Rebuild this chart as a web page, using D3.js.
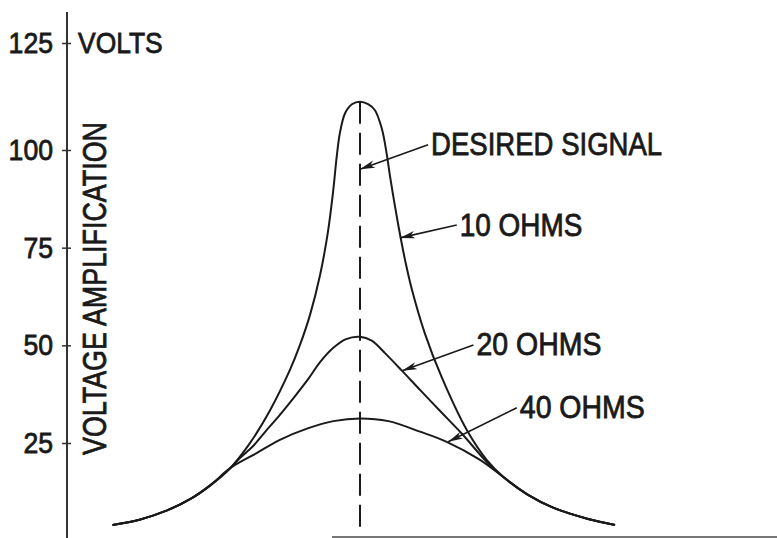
<!DOCTYPE html>
<html><head><meta charset="utf-8">
<script src="https://cdn.jsdelivr.net/npm/d3@7"></script>
<style>html,body{margin:0;padding:0;background:#fff;} svg{display:block;}</style>
</head><body><svg id="c" width="777" height="538"></svg>
<script>
// ---- data (frequency offset from resonance, voltage amplification) ----
const yTicks = [25, 50, 75, 100, 125];
const yUnit = "VOLTS";
const yTitle = "VOLTAGE AMPLIFICATION";

const freq10 = [-10.1,-9.0,-7.9,-6.9,-6.1,-5.3,-4.5,-3.67,-2.86,-2.45,-2.04,-1.63,-1.31,-1.09,-0.95,-0.82,-0.61,-0.33,0,0.33,0.61,0.89,1.09,1.22,1.43,1.63,1.85,2.11,2.65,3.33,4.36,5.17,5.84,6.86,7.88,9.31,10.41];
const amp10  = [3.2,4.6,7.0,10.2,13.8,18.3,24.9,33.4,43.7,50.1,57.8,68.0,79.0,89.8,98.3,104.0,108.6,110.7,111.3,110.7,109.3,105.0,99.0,93.5,85.5,78.5,71.5,64.5,53.0,41.9,28.3,20.5,16.0,11.2,7.8,4.8,3.2];

const freq20 = [-10.1,-9.0,-7.9,-6.9,-6.1,-5.3,-4.9,-4.36,-3.88,-3.27,-2.65,-2.11,-1.63,-1.10,-0.57,0,0.48,1.02,1.70,2.45,3.33,4.17,5.17,5.84,6.86,7.88,9.31,10.41];
const amp20  = [3.2,4.6,7.0,10.2,13.8,18.3,21.0,24.2,27.8,32.2,37.0,41.4,45.7,49.3,51.6,52.2,51.2,48.0,43.6,38.6,32.8,27.3,20.0,16.0,11.2,7.8,4.8,3.2];

const freq40 = [-10.1,-9.0,-7.9,-6.9,-6.1,-5.3,-4.22,-3.27,-2.11,-1.09,0,1.16,2.45,3.54,4.9,5.84,6.86,7.88,9.31,10.41];
const amp40  = [3.2,4.6,7.0,10.2,13.8,18.3,22.3,25.8,28.8,30.6,31.3,30.6,27.9,25.3,20.5,16.0,11.2,7.8,4.8,3.2];

const signalFreq = 0;
const signalTop = 111.3;

const annLabels = ["DESIRED SIGNAL", "10 OHMS", "20 OHMS", "40 OHMS"];
const annTipF   = [0, 1.63, 1.72, 3.6];
const annTipA   = [95.1, 77.5, 43.5, 25.3];
const annTailF  = [2.78, 3.95, 4.63, 6.4];
const annTailA  = [101.2, 80.8, 50.1, 34.0];

// ---- drawing ----
const svg = d3.select("#c");
svg.append("rect").attr("width", 777).attr("height", 538).attr("fill", "#fff");
const FONT = "'Liberation Sans', Arial, Helvetica, sans-serif";
const ink = "#1a1a1a";

const x = d3.scaleLinear().domain([-10, 10]).range([115, 605]);
const y = d3.scaleLinear().domain([0, 25, 100, 125]).range([537, 443, 150, 43]);

function heavy(sel) {
  return sel.attr("font-family", FONT).attr("fill", ink)
    .attr("stroke", ink).attr("stroke-width", 0.8).attr("paint-order", "stroke")
    .attr("lengthAdjust", "spacingAndGlyphs");
}

// arrow marker
svg.append("defs").append("marker")
  .attr("id", "ah").attr("viewBox", "0 0 15 8").attr("refX", 15).attr("refY", 4)
  .attr("markerWidth", 15).attr("markerHeight", 8).attr("markerUnits", "userSpaceOnUse")
  .attr("orient", "auto")
  .append("path").attr("d", "M0,0.3 L15,4 L0,7.7 L4,4 Z").attr("fill", ink);

// x baseline
svg.append("line").attr("x1", 332).attr("x2", 777).attr("y1", y(0)).attr("y2", y(0))
  .attr("stroke", "#777").attr("stroke-width", 2);

// y axis
const axisX = 67;
svg.append("line").attr("x1", axisX).attr("x2", axisX).attr("y1", 12).attr("y2", 538)
  .attr("stroke", "#333").attr("stroke-width", 2);
const ax = svg.append("g").attr("transform", `translate(${axisX},0)`)
  .call(d3.axisLeft(y).tickValues(yTicks).tickSizeInner(5).tickSizeOuter(0).tickPadding(9));
ax.select(".domain").remove();
ax.selectAll(".tick line").attr("x1", 4).attr("stroke", "#333").attr("stroke-width", 1.5);
heavy(ax.selectAll(".tick text")).attr("font-size", 30)
  .attr("textLength", d => String(d).length * 14.8);

heavy(svg.append("text").text(yUnit).attr("x", 78).attr("y", 53.3))
  .attr("font-size", 30).attr("textLength", 84.7);

heavy(svg.append("text").text(yTitle)
  .attr("transform", "translate(106,288.5) rotate(-90)")
  .attr("text-anchor", "middle"))
  .attr("font-size", 33).attr("textLength", 333);

// desired signal dashed line
svg.append("line").attr("x1", x(signalFreq)).attr("x2", x(signalFreq))
  .attr("y1", y(signalTop)).attr("y2", y(1.3))
  .attr("stroke", ink).attr("stroke-width", 2).attr("stroke-dasharray", "22,9");

// curves
const line = d3.line().x(d => x(d[0])).y(d => y(d[1])).curve(d3.curveCatmullRom.alpha(0.5));
[[freq10, amp10], [freq20, amp20], [freq40, amp40]].forEach(([f, a]) => {
  svg.append("path").datum(f.map((v, i) => [v, a[i]])).attr("d", line)
    .attr("fill", "none").attr("stroke", ink).attr("stroke-width", 2);
});

// annotations
const labelLen = [231, 122.6, 125, 125];
const labelSize = [32, 31, 31, 31];
annLabels.forEach((t, i) => {
  svg.append("line")
    .attr("x1", x(annTailF[i])).attr("y1", y(annTailA[i]))
    .attr("x2", x(annTipF[i])).attr("y2", y(annTipA[i]))
    .attr("stroke", ink).attr("stroke-width", 1.6).attr("marker-end", "url(#ah)");
  heavy(svg.append("text").text(t)
    .attr("x", x(annTailF[i]) + 3).attr("y", y(annTailA[i]) + 10.5))
    .attr("font-size", labelSize[i]).attr("textLength", labelLen[i]);
});
</script>
</body></html>
